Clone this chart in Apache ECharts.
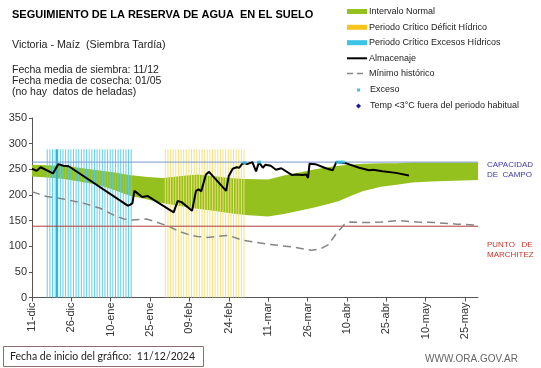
<!DOCTYPE html>
<html><head><meta charset="utf-8">
<script src="https://cdn.jsdelivr.net/npm/echarts@6/dist/echarts.min.js"></script>
<style>html,body{margin:0;padding:0;background:#fff}#c{width:541px;height:368px}</style>
</head><body><div id="c"></div>
<script>
// ---- data ----
const tickLabels = ['11-dic','26-dic','10-ene','25-ene','09-feb','24-feb','11-mar','26-mar','10-abr','25-abr','10-may','25-may'];
const capacidadCampo = 264;
const puntoMarchitez = 139;
const bandDays  = [0,6,12,18,25,31,37,44,50,57,63,69,75,81,90,96,101,108,114,117,121,126,133,139,145,152,158,164,170];
const bandUpper = [259,258,257,253,248,244,239,235,233,237,240,237,233,231,230,238,243,250,255,257,259,261,262,262,263,263,263,263,263];
const bandLower = [236,234,231,226,220,210,199,191,184,178,173,169,165,161,158,163,168,176,184,188,197,207,216,220,224,226,227,228,229];
const excessPeriodDays = [6,7,8,9,10,11,12,13,14,15,16,17,18,19,20,21,22,23,24,25,26,27,28,29,30,31,32,33,34,35,36,37,38];
const deficitPeriodDays = [51,52,53,54,55,56,57,58,59,60,61,62,63,64,65,66,67,68,69,70,71,72,73,74,75,76,77,78,79,80,81];
const periodTop = 289;
const markDay = [9.5];
const almacenajeDays = [0,1.8,3.3,8,10,12,14,36.5,37.5,38.3,39,40,42,44,54,55.5,57,61,62.5,63.5,64.5,66.3,67.5,74,75,76.5,78,79,80,81,82,84,85.4,86.5,88,89,91,93,95,99,101,103,104.5,105.2,105.8,108,112,114.6,116,119.5,124.7,128.5,130,133.6,138.7,143.7];
const almacenajeVals = [251,247,254,242,260,257,256,179,181,184,208,204,196,198,166,188,186,169,208,211,207,240,245,208,237,251,254,253,260,262,260,264,246,264,253,259,257,249,252,239,240,239,240,233,261,260,252,248,264,262,253,248,249,246,243,238];
const minimoDays = [0,2,5.6,12,19.5,26,31,35,38.5,43.6,47,52.5,56,60,63,67,72,75,80,90,100,106.6,110,113,116,119,121,127,133,140,147,154,162,170];
const minimoVals = [206,203,197,192,184,174,161,153,151,153,148,138,129,122,119,117,120,121,112,104,98,92,95,103,125,142,147,146,147,150,147,146,143,141];
const excesoDays = [81,86.5,116.5,117.5,118.5];
const excesoVals = [263,264,264,264,264];

const pair = (xs, ys) => xs.map((x, i) => [x, ys[i]]);
const FONT = 'Liberation Sans, Arial, sans-serif';

const chart = echarts.init(document.getElementById('c'), null, {renderer: 'canvas'});

function legendRow(y, kind, color, text) {
  const els = [];
  if (kind === 'bar') els.push({type:'rect', shape:{x:347, y:y-2.5, width:20, height:5}, style:{fill:color}});
  if (kind === 'line') els.push({type:'line', shape:{x1:347, y1:y, x2:367, y2:y}, style:{stroke:color, lineWidth:2}});
  if (kind === 'dash') els.push({type:'line', shape:{x1:347, y1:y, x2:367, y2:y}, style:{stroke:color, lineWidth:1.5, lineDash:[6,4]}});
  if (kind === 'sq') els.push({type:'rect', shape:{x:357, y:y-1.5, width:3, height:3}, style:{fill:color}});
  if (kind === 'dia') els.push({type:'polygon', shape:{points:[[358.5,y-2.5],[361,y],[358.5,y+2.5],[356,y]]}, style:{fill:color}});
  els.push({type:'text', x: (kind==='sq'||kind==='dia') ? 370 : 369, y:y, style:{text:text, font:'9px '+FONT, fill:'#222', verticalAlign:'middle'}});
  return els;
}

const graphics = [
  {type:'text', x:12, y:15, style:{text:'SEGUIMIENTO DE LA RESERVA DE AGUA  EN EL SUELO', font:'bold 11px '+FONT, fill:'#000', verticalAlign:'middle'}},
  {type:'text', x:12, y:45, style:{text:'Victoria - Maíz  (Siembra Tardía)', font:'10.7px '+FONT, fill:'#222', verticalAlign:'middle'}},
  {type:'text', x:12, y:70, style:{text:'Fecha media de siembra: 11/12', font:'10.5px '+FONT, fill:'#222', verticalAlign:'middle'}},
  {type:'text', x:12, y:81, style:{text:'Fecha media de cosecha: 01/05', font:'10.5px '+FONT, fill:'#222', verticalAlign:'middle'}},
  {type:'text', x:12, y:92, style:{text:'(no hay  datos de heladas)', font:'10.5px '+FONT, fill:'#222', verticalAlign:'middle'}},
  ...legendRow(11.5, 'bar', '#95c11f', 'Intervalo Normal'),
  ...legendRow(27.3, 'bar', '#f7c31c', 'Periodo Crítico Déficit Hídrico'),
  ...legendRow(42.7, 'bar', '#3cc4e6', 'Periodo Crítico Excesos Hídricos'),
  ...legendRow(58.3, 'line', '#000', 'Almacenaje'),
  ...legendRow(73.5, 'dash', '#888', 'Mínimo histórico'),
  ...legendRow(90, 'sq', '#3cc4e6', 'Exceso'),
  ...legendRow(106, 'dia', '#1a1aa0', 'Temp <3°C fuera del periodo habitual'),
  {type:'text', x:487, y:170, style:{text:'CAPACIDAD\nDE  CAMPO', font:'8px '+FONT, fill:'#3a3aa8', lineHeight:10, verticalAlign:'middle'}},
  {type:'text', x:487, y:250, style:{text:'PUNTO   DE\nMARCHITEZ', font:'8px '+FONT, fill:'#c0392b', lineHeight:10, verticalAlign:'middle'}},
  {type:'rect', shape:{x:3.5, y:346.5, width:200, height:20}, style:{fill:'#fff', stroke:'#8c6e6e', lineWidth:1}},
  {type:'text', x:10, y:357, style:{text:'Fecha de inicio del gráfico:  11/12/2024', font:'10.5px Lato, '+FONT, fill:'#222', verticalAlign:'middle'}},
  {type:'text', x:425, y:359, style:{text:'WWW.ORA.GOV.AR', font:'10px '+FONT, fill:'#666', verticalAlign:'middle'}}
];

const option = {
  animation: false,
  grid: {left:32, right:63, top:118, bottom:70.5, containLabel:false, outerBoundsMode:'none'},
  xAxis: {
    type:'value', min:0, max:170, interval:15,
    axisLine:{show:true, onZero:false, lineStyle:{color:'#555', width:1}},
    axisTick:{show:true, length:4, lineStyle:{color:'#555'}},
    axisLabel:{rotate:90, fontSize:11, fontFamily:FONT, color:'#333', margin:5, showMaxLabel:false,
      formatter: v => (v % 15 === 0 && tickLabels[v/15]) ? tickLabels[v/15] : ''},
    splitLine:{show:false}
  },
  yAxis: {
    type:'value', min:0, max:350, interval:50,
    name:'Milímetros', nameLocation:'middle', nameGap:22, nameRotate:90,
    nameTextStyle:{fontSize:8, fontFamily:FONT, color:'#333'},
    axisLine:{show:true, lineStyle:{color:'#555', width:1}},
    axisTick:{show:true, length:3, lineStyle:{color:'#555'}},
    axisLabel:{fontSize:11, fontFamily:FONT, color:'#333', margin:5},
    splitLine:{show:false}
  },
  graphic: graphics,
  series: [
    {
      type:'custom', z:1, silent:true, data:[[0,0]],
      renderItem: (params, api) => {
        const pts = [];
        for (let i = 0; i < bandDays.length; i++) pts.push(api.coord([bandDays[i], bandUpper[i]]));
        for (let i = bandDays.length - 1; i >= 0; i--) pts.push(api.coord([bandDays[i], bandLower[i]]));
        return {type:'polygon', shape:{points:pts}, style:{fill:'#95c11f'}};
      }
    },
    {type:'bar', z:2, barWidth:1, barGap:'-100%', data: excessPeriodDays.map(d => [d, periodTop]),
     itemStyle:{color:'#5ccbe6', opacity:0.95}},
    {type:'bar', z:2, barWidth:1, barGap:'-100%', data: deficitPeriodDays.map(d => [d, periodTop]),
     itemStyle:{color:'#f2e27a', opacity:0.95}},
    {type:'bar', z:2, barWidth:2, barGap:'-100%', data: markDay.map(d => [d, periodTop]),
     itemStyle:{color:'#2eb6d8'}},
    {type:'line', z:3, data:[[0,capacidadCampo],[170,capacidadCampo]], showSymbol:false, lineStyle:{color:'#7b96d2', width:1}},
    {type:'line', z:3, data:[[0,puntoMarchitez],[170,puntoMarchitez]], showSymbol:false, lineStyle:{color:'#b03a3a', width:1}},
    {type:'line', z:4, data: pair(minimoDays, minimoVals), showSymbol:false, lineStyle:{color:'#858585', width:1.5, type:[8,5]}},
    {type:'line', z:5, data: pair(almacenajeDays, almacenajeVals), showSymbol:false, lineStyle:{color:'#000', width:2}},
    {type:'scatter', z:6, data: pair(excesoDays, excesoVals), symbol:'rect', symbolSize:[4,3], itemStyle:{color:'#3cc4e6'}}
  ]
};
chart.setOption(option);
</script></body></html>
